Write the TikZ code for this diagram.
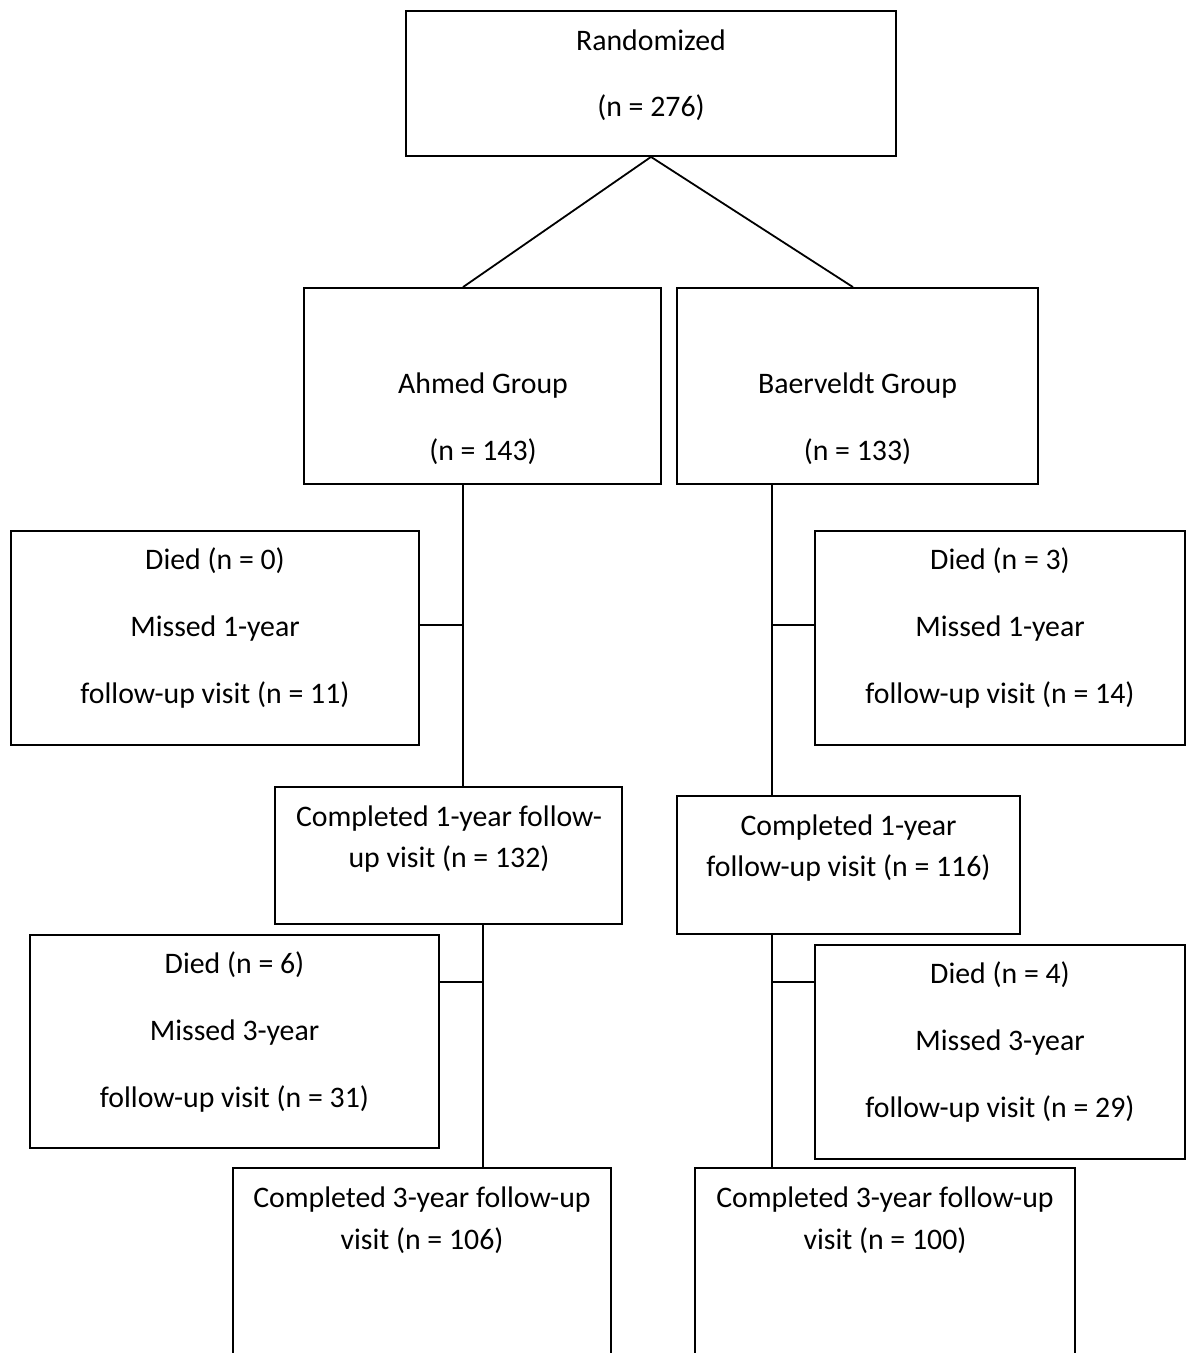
\documentclass[tikz,border=0pt]{standalone}
\usepackage{fontspec}
\setmainfont{Carlito}
\begin{document}
\begin{tikzpicture}[x=1pt,y=-1pt,
  box/.style={draw,line width=1.8pt,inner sep=0pt,rectangle},
  txt/.style={inner sep=0pt,anchor=mid,yshift=-8pt,font=\fontsize{29.8}{34}\selectfont},
  conn/.style={line width=1.8pt}]
\useasboundingbox (0,0) rectangle (1187,1353);
\clip (0,0) rectangle (1187,1353);
\fill[white] (0,0) rectangle (1187,1353);
% boxes
\node[box,minimum width=490pt,minimum height=145pt] (rand) at (651,83.5) {};
\node[box,minimum width=357pt,minimum height=196pt] (ahmed) at (482.5,386) {};
\node[box,minimum width=361pt,minimum height=196pt] (baer) at (857.5,386) {};
\node[box,minimum width=408pt,minimum height=214pt] (diedA) at (215,638) {};
\node[box,minimum width=370pt,minimum height=214pt] (diedB) at (1000,638) {};
\node[box,minimum width=347pt,minimum height=137pt] (compA) at (448.5,855.5) {};
\node[box,minimum width=343pt,minimum height=138pt] (compB) at (848.5,865) {};
\node[box,minimum width=409pt,minimum height=213pt] (diedC) at (234.5,1041.5) {};
\node[box,minimum width=370pt,minimum height=214pt] (diedD) at (1000,1052) {};
\node[box,minimum width=378pt,minimum height=232pt] (compC) at (422,1284) {};
\node[box,minimum width=380pt,minimum height=232pt] (compD) at (885,1284) {};
% texts
\node[txt] (t1) at (651,40) {Randomized};
\node[txt] (t2) at (651,106) {(n = 276)};
\node[txt] (t3) at (483,383) {Ahmed Group};
\node[txt] (t4) at (483,450) {(n = 143)};
\node[txt] (t5) at (857.5,383) {Baerveldt Group};
\node[txt] (t6) at (857.5,450) {(n = 133)};
\node[txt] (t7) at (215,559) {Died (n = 0)};
\node[txt] (t8) at (215,626) {Missed 1-year};
\node[txt] (t9) at (215,693) {follow-up visit (n = 11)};
\node[txt] (t10) at (1000,559) {Died (n = 3)};
\node[txt] (t11) at (1000,626) {Missed 1-year};
\node[txt] (t12) at (1000,693) {follow-up visit (n = 14)};
\node[txt] (t13) at (449,816) {Completed 1-year follow-};
\node[txt] (t14) at (449,857) {up visit (n = 132)};
\node[txt] (t15) at (848.5,825) {Completed 1-year};
\node[txt] (t16) at (848.5,866) {follow-up visit (n = 116)};
\node[txt] (t17) at (234.5,963) {Died (n = 6)};
\node[txt] (t18) at (234.5,1030) {Missed 3-year};
\node[txt] (t19) at (234.5,1097) {follow-up visit (n = 31)};
\node[txt] (t20) at (1000,973) {Died (n = 4)};
\node[txt] (t21) at (1000,1040) {Missed 3-year};
\node[txt] (t22) at (1000,1107) {follow-up visit (n = 29)};
\node[txt] (t23) at (422,1197) {Completed 3-year follow-up};
\node[txt] (t24) at (422,1239) {visit (n = 106)};
\node[txt] (t25) at (885,1197) {Completed 3-year follow-up};
\node[txt] (t26) at (885,1239) {visit (n = 100)};
% reference coordinates
\coordinate (aX) at (463,0);
\coordinate (bT) at (853,0);
\coordinate (bX) at (772,0);
\coordinate (cX) at (483,0);
\coordinate (jA1) at (463,625);
\coordinate (jB1) at (772,625);
\coordinate (jA2) at (483,982);
\coordinate (jB2) at (772,982);
% connectors
\draw[conn] (rand.south) -- (ahmed.north -| aX);
\draw[conn] (rand.south) -- (baer.north -| bT);
\draw[conn] (ahmed.south -| aX) -- (compA.north -| aX);
\draw[conn] (jA1 -| diedA.east) -- (jA1);
\draw[conn] (baer.south -| bX) -- (compB.north -| bX);
\draw[conn] (jB1) -- (jB1 -| diedB.west);
\draw[conn] (compA.south -| cX) -- (compC.north -| cX);
\draw[conn] (jA2) -- (jA2 -| diedC.east);
\draw[conn] (compB.south -| bX) -- (compD.north -| bX);
\draw[conn] (jB2) -- (jB2 -| diedD.west);
\end{tikzpicture}
\end{document}
